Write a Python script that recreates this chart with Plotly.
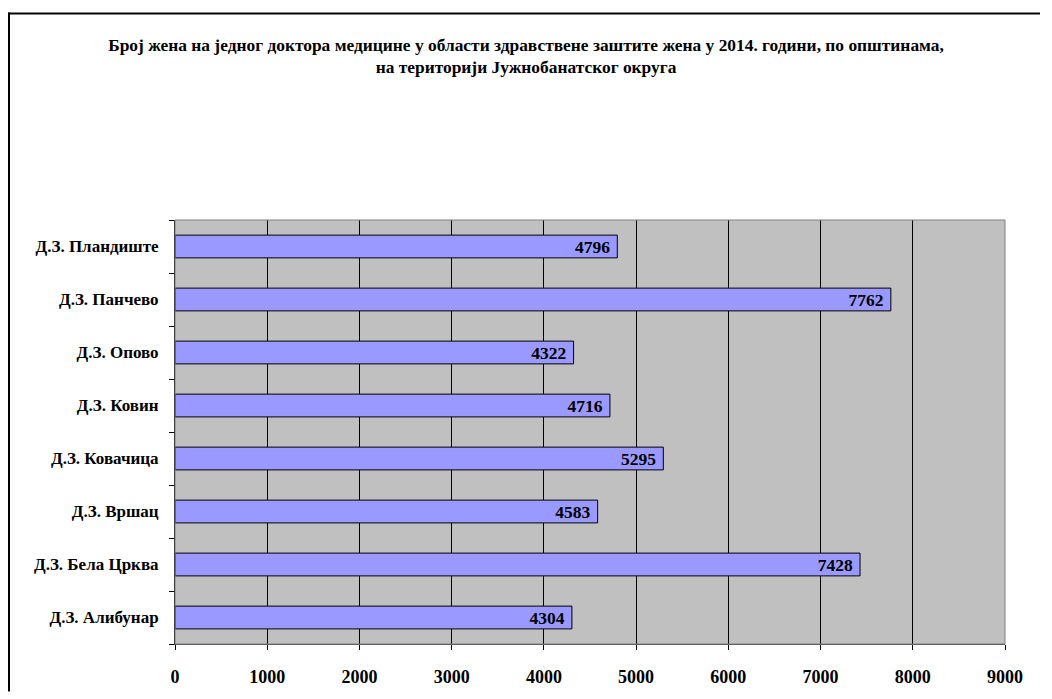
import plotly.graph_objects as go

# Health centres (bottom to top) and women per doctor in 2014
centres = ["Д.З. Алибунар", "Д.З. Бела Црква", "Д.З. Вршац", "Д.З. Ковачица",
           "Д.З. Ковин", "Д.З. Опово", "Д.З. Панчево", "Д.З. Пландиште"]
women_per_doctor = [4304, 7428, 4583, 5295, 4716, 4322, 7762, 4796]
x_ticks = [0, 1000, 2000, 3000, 4000, 5000, 6000, 7000, 8000, 9000]

title_text = ("Број жена на једног доктора медицине у области здравствене заштите жена у 2014. години, по општинама,"
              "<br>на територији Јужнобанатског округа")

FONT = "Liberation Serif, Times New Roman, serif"

# figure and plot-area geometry in pixels, used to place the outer frame
W, H = 1052, 699
ML, MR, MT, MB = 175, 47, 220, 50
PW, PH = W - ML - MR, H - MT - MB


def px_x(x):
    return (x - ML) / PW


def px_y(y):
    return (H - MB - y) / PH


fig = go.Figure()
fig.add_trace(go.Bar(
    x=women_per_doctor,
    y=centres,
    orientation="h",
    marker=dict(color="#9999FF", line=dict(color="#000000", width=1)),
    width=0.43,
    text=[f"{v}\u00a0" for v in women_per_doctor],
    textposition="inside",
    insidetextanchor="end",
    textangle=0,
    constraintext="none",
    textfont=dict(family=FONT, size=17.5, color="#000000", weight="bold"),
    hoverinfo="x+y",
))

fig.update_layout(
    width=W, height=H,
    paper_bgcolor="#FFFFFF",
    plot_bgcolor="#C0C0C0",
    margin=dict(l=ML, r=MR, t=MT, b=MB),
    showlegend=False,
    title=dict(
        text=title_text,
        x=0.5, xanchor="center",
        y=1 - 50.5 / H, yanchor="middle",
        font=dict(family=FONT, size=17.4, color="#000000", weight="bold"),
    ),
    font=dict(family=FONT, size=17, color="#000000", weight="bold"),
    xaxis=dict(
        range=[0, 9000],
        tickvals=x_ticks,
        ticks="outside", ticklen=5, tickcolor="#000000", tickwidth=1,
        ticklabelstandoff=11,
        showgrid=True, gridcolor="#000000", gridwidth=1,
        showline=True, linecolor="#404040", linewidth=1,
        zeroline=False,
        tickfont=dict(family=FONT, size=18, color="#000000", weight="bold"),
        fixedrange=True,
    ),
    yaxis=dict(
        type="category",
        ticks="outside", ticklen=5, tickcolor="#000000", tickwidth=1,
        tickson="boundaries",
        ticklabelstandoff=12,
        showgrid=False,
        showline=True, linecolor="#000000", linewidth=1,
        tickfont=dict(family=FONT, size=17, color="#000000", weight="bold"),
        fixedrange=True,
    ),
    shapes=[
        # grey frame of the plot area (top and right sides)
        dict(type="rect", xref="paper", yref="paper", x0=0, x1=1, y0=0, y1=1,
             line=dict(color="#808080", width=1), fillcolor="rgba(0,0,0,0)", layer="above"),
        # outer frame of the chart object: left edge
        dict(type="line", xref="paper", yref="paper",
             x0=px_x(9), x1=px_x(9), y0=px_y(H - 2), y1=px_y(10),
             line=dict(color="#000000", width=2), layer="above"),
        # outer frame of the chart object: top edge
        dict(type="line", xref="paper", yref="paper",
             x0=px_x(8), x1=px_x(W - 12), y0=px_y(11), y1=px_y(11),
             line=dict(color="#000000", width=2), layer="above"),
    ],
)

fig.write_html(
    "out.html",
    post_script="document.body.style.margin='0';document.documentElement.style.overflow='hidden';",
)
